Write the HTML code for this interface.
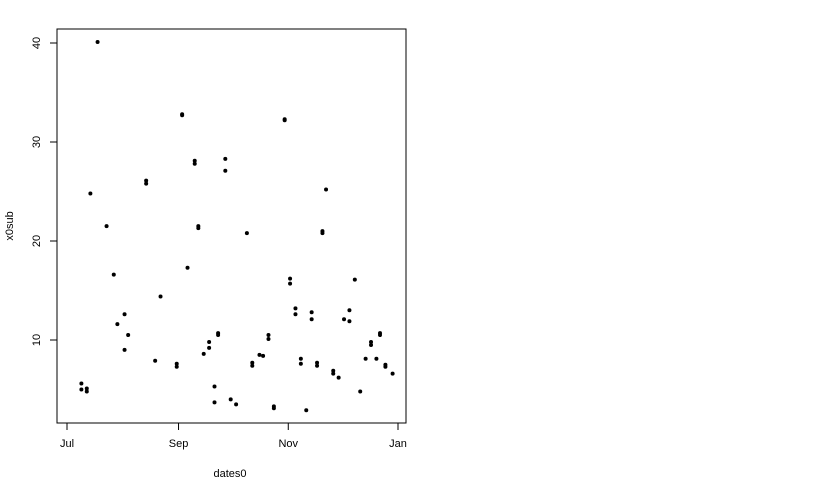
<!DOCTYPE html>
<html><head><meta charset="utf-8"><style>
body{margin:0;background:#fff;width:840px;height:480px;overflow:hidden}
text{font-family:"Liberation Sans",Arial,sans-serif;font-size:11px;fill:#000}
</style></head><body>
<svg width="840" height="480">
<rect x="57" y="29" width="349" height="394" fill="none" stroke="#000"/>
<g id="axes"></g><g id="pts"></g>
<text x="230" y="477" text-anchor="middle">dates0</text>
<text transform="translate(13,226) rotate(-90)" text-anchor="middle">x0sub</text>
</svg>
<script>
const days=[8,8,11,11,13,17,22,26,28,32,32,34,44,44,49,52,61,61,64,64,67,71,71,73,73,76,79,79,82,82,84,84,88,88,91,94,100,103,103,107,109,112,112,115,115,121,121,124,124,127,127,130,130,133,136,136,139,139,142,142,144,148,148,151,154,157,157,160,163,166,169,169,172,174,174,177,177,181];
const values=[5.6,5.0,5.1,4.8,24.8,40.1,21.5,16.6,11.6,12.6,9.0,10.5,26.1,25.8,7.9,14.4,7.6,7.3,32.8,32.7,17.3,28.1,27.8,21.5,21.3,8.6,9.2,9.8,5.3,3.7,10.5,10.7,28.3,27.1,4.0,3.5,20.8,7.7,7.4,8.5,8.4,10.5,10.1,3.3,3.1,32.3,32.2,16.2,15.7,13.2,12.6,8.1,7.6,2.9,12.8,12.1,7.7,7.4,21.0,20.8,25.2,6.9,6.6,6.2,12.1,13.0,11.9,16.1,4.8,8.1,9.8,9.5,8.1,10.7,10.5,7.5,7.3,6.6];
const xTickLabels=["Jul","Sep","Nov","Jan"];
const xTickDays=[0,62,123,184];
const yTicks=[10,20,30,40];
const NS="http://www.w3.org/2000/svg";
const xs=d=>67+d*(331/184);
const ys=v=>340-(v-10)*9.9;
const ax=document.getElementById('axes'),pg=document.getElementById('pts');
function mk(t,a,p){const e=document.createElementNS(NS,t);for(const k in a)e.setAttribute(k,a[k]);p.appendChild(e);return e;}
mk('line',{x1:xs(0),x2:xs(184),y1:423,y2:423,stroke:'#000'},ax);
xTickDays.forEach((d,i)=>{
  const l=mk('line',{x1:xs(d),x2:xs(d),y1:423,y2:430,stroke:'#000'},ax);
  
  
  const t=mk('text',{x:xs(d),y:447,'text-anchor':'middle'},ax);t.textContent=xTickLabels[i];
  
  
});
mk('line',{x1:57,x2:57,y1:ys(10),y2:ys(40),stroke:'#000'},ax);
yTicks.forEach(v=>{
  const l=mk('line',{x1:50,x2:57,y1:ys(v),y2:ys(v),stroke:'#000'},ax);
  
  
  const t=mk('text',{transform:`translate(40,${ys(v)}) rotate(-90)`,'text-anchor':'middle'},ax);t.textContent=v;
  
  
});
days.forEach((d,i)=>{
  const c=mk('circle',{cx:xs(d),cy:ys(values[i]),r:2,fill:'#000'},pg);
  
  
});
</script>
</body></html>
